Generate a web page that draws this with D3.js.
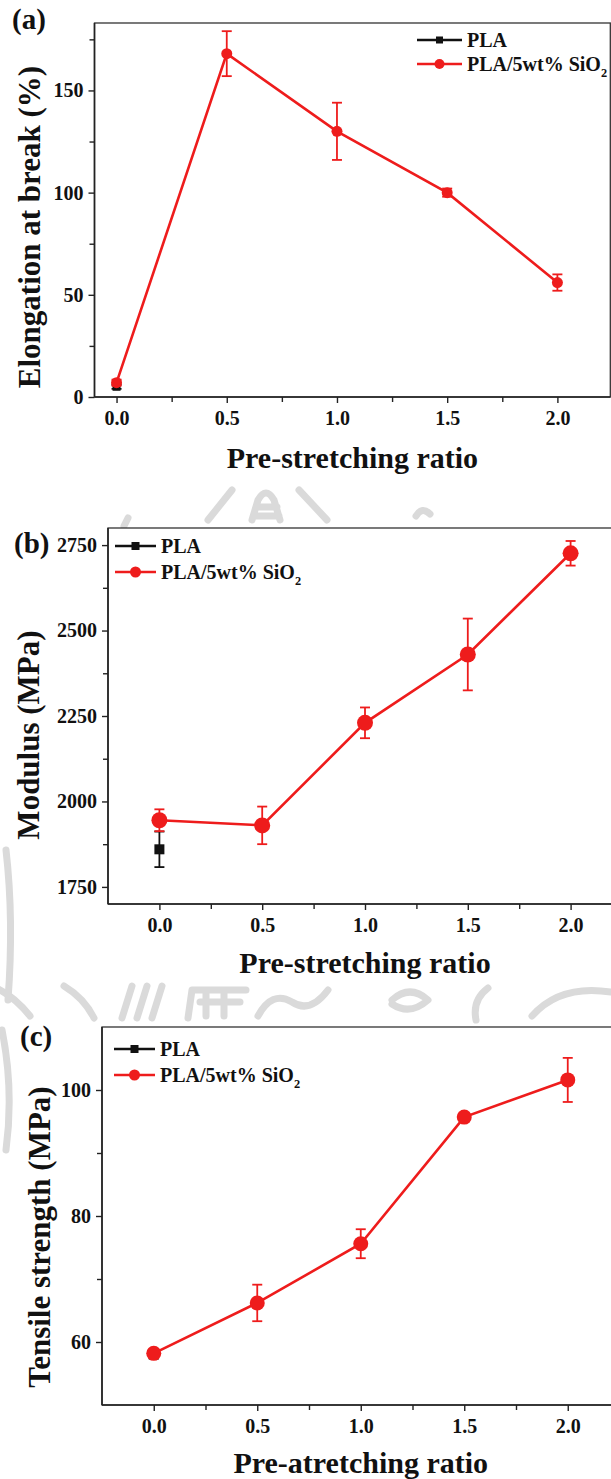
<!DOCTYPE html>
<html>
<head>
<meta charset="utf-8">
<script src="https://cdn.jsdelivr.net/npm/d3@7"></script>
<style>
  html, body { margin: 0; padding: 0; background: #fff; }
  svg { display: block; }
  text { font-family: "Liberation Serif", "Times New Roman", serif; font-weight: bold; fill: #111; }
</style>
</head>
<body>
<svg id="fig" width="611" height="1479"></svg>
<script>
// Pre-stretching ratios shared by all three panels
const ratios = [0, 0.5, 1.0, 1.5, 2.0];
const plaRatios = [0];
const xTickValues = [0, 0.5, 1.0, 1.5, 2.0];
const xMinorValues = [0.25, 0.75, 1.25, 1.75];

// (a) Elongation at break (%)
const elongPLA = [5];
const elongPLAErr = [1];
const elongSiO2 = [7, 168, 130, 100, 56];
const elongSiO2Err = [1.5, 11, 14, 2, 4];
const elongTicks = [0, 50, 100, 150];
const elongMinor = [25, 75, 125, 175];

// (b) Modulus (MPa)
const modPLA = [1860];
const modPLAErr = [52];
const modSiO2 = [1945, 1930, 2230, 2430, 2726];
const modSiO2Err = [32, 55, 45, 105, 36];
const modTicks = [1750, 2000, 2250, 2500, 2750];
const modMinor = [1875, 2125, 2375, 2625];

// (c) Tensile strength (MPa)
const tsPLA = [58];
const tsPLAErr = [0.5];
const tsSiO2 = [58.2, 66.2, 75.6, 95.7, 101.6];
const tsSiO2Err = [0.6, 2.9, 2.3, 0.5, 3.5];
const tsTicks = [60, 80, 100];
const tsMinor = [70, 90];

const seriesNames = ["PLA", "PLA/5wt% SiO"];
const RED = "#ee1c1c";
const BLACK = "#111";

const svg = d3.select("#fig");

// faint seal drawn behind the panels
const seal = svg.append("g").attr("fill", "none").attr("stroke", "#dadada")
  .attr("stroke-width", 7).attr("stroke-linecap", "round").attr("stroke-linejoin", "round");
[
  "M208,520 L232,490",
  "M252,520 L258,500 Q266,486 274,500 L280,520 M256,507 L277,507 M254,516 L279,516",
  "M299,490 L327,520",
  "M416,516 Q422,506 430,514",
  "M124,526 L128,518",
  "M-4,988 Q14,996 30,1016",
  "M64,986 Q84,998 94,1018",
  "M122,1018 L132,986 M137,1018 L147,986 M152,1018 L162,986",
  "M188,1018 L192,990 L246,990 M200,1002 L240,1002 M206,990 L206,1016 M224,990 L224,1016",
  "M258,1016 Q272,990 292,1002 Q310,1014 328,990",
  "M392,1000 Q410,984 428,1000 Q410,1016 392,1004",
  "M488,988 Q472,1000 476,1020",
  "M532,1016 Q560,984 611,992",
  "M6,850 Q14,920 8,1000",
  "M2,1030 Q14,1090 6,1150"
].forEach(d => seal.append("path").attr("d", d));

function drawMarker(sel, shape, cx, cy, size, color) {
  if (shape === "square") {
    sel.append("rect").attr("x", cx - size / 2).attr("y", cy - size / 2)
      .attr("width", size).attr("height", size).attr("fill", color);
  } else {
    sel.append("circle").attr("cx", cx).attr("cy", cy).attr("r", size / 2).attr("fill", color);
  }
}

function panel(cfg) {
  const g = svg.append("g");
  const x = d3.scaleLinear().domain(cfg.xDomain).range([cfg.left, cfg.right]);
  const y = d3.scaleLinear().domain(cfg.yDomain).range([cfg.bottom, cfg.top]);

  // plot area with frame
  g.append("rect").attr("x", cfg.left).attr("y", cfg.top)
    .attr("width", cfg.right - cfg.left).attr("height", cfg.bottom - cfg.top)
    .attr("fill", "#fff").attr("stroke", "#333").attr("stroke-width", 1.3);

  // bottom axis, major and minor ticks
  const xAxis = g.append("g").attr("transform", `translate(0,${cfg.bottom})`)
    .call(d3.axisBottom(x).tickValues(xTickValues).tickSize(6).tickPadding(8)
      .tickFormat(d3.format(".1f")));
  const xMinor = g.append("g").attr("transform", `translate(0,${cfg.bottom})`)
    .call(d3.axisBottom(x).tickValues(xMinorValues).tickSize(5).tickFormat(""));
  // left axis
  const yAxis = g.append("g").attr("transform", `translate(${cfg.left},0)`)
    .call(d3.axisLeft(y).tickValues(cfg.yTicks).tickSize(6).tickPadding(5)
      .tickFormat(d3.format("d")));
  const yMinor = g.append("g").attr("transform", `translate(${cfg.left},0)`)
    .call(d3.axisLeft(y).tickValues(cfg.yMinor).tickSize(5).tickFormat(""));

  [xAxis, xMinor, yAxis, yMinor].forEach(a => {
    a.select(".domain").remove();
    a.selectAll(".tick line").attr("stroke", "#222").attr("stroke-width", 1.4);
    a.selectAll("text").attr("font-size", cfg.tickFont).attr("fill", "#111")
      .style("font-family", '"Liberation Serif", serif').style("font-weight", "bold");
  });
  g.append("line").attr("x1", cfg.left).attr("x2", cfg.right)
    .attr("y1", cfg.bottom).attr("y2", cfg.bottom).attr("stroke", "#222").attr("stroke-width", 1.6);
  g.append("line").attr("x1", cfg.left).attr("x2", cfg.left)
    .attr("y1", cfg.top).attr("y2", cfg.bottom).attr("stroke", "#222").attr("stroke-width", 1.6);

  // data series: PLA first, composite on top
  const series = [
    { xs: plaRatios, ys: cfg.pla, err: cfg.plaErr, color: BLACK, shape: "square", size: cfg.sqSize },
    { xs: ratios, ys: cfg.sio2, err: cfg.sio2Err, color: RED, shape: "circle", size: cfg.ciSize }
  ];
  series.forEach(s => {
    const pts = s.xs.map((v, i) => [v, s.ys[i], s.err[i]]);
    if (pts.length > 1) {
      g.append("path").datum(pts)
        .attr("d", d3.line().x(d => x(d[0])).y(d => y(d[1])))
        .attr("fill", "none").attr("stroke", s.color).attr("stroke-width", cfg.lineW);
    }
    const eb = g.append("g").attr("stroke", s.color).attr("stroke-width", 1.8);
    pts.forEach(d => {
      const cx = x(d[0]);
      const y1 = y(d[1] + d[2]), y2 = y(d[1] - d[2]);
      eb.append("line").attr("x1", cx).attr("x2", cx).attr("y1", y1).attr("y2", y2);
      eb.append("line").attr("x1", cx - cfg.cap).attr("x2", cx + cfg.cap).attr("y1", y1).attr("y2", y1);
      eb.append("line").attr("x1", cx - cfg.cap).attr("x2", cx + cfg.cap).attr("y1", y2).attr("y2", y2);
    });
    const mk = g.append("g");
    pts.forEach(d => drawMarker(mk, s.shape, x(d[0]), y(d[1]), s.size, s.color));
  });

  // legend
  const lg = g.append("g");
  [[BLACK, "square", cfg.legSq], [RED, "circle", cfg.legCi]].forEach((it, i) => {
    const ly = cfg.legY + i * cfg.legGap;
    lg.append("line").attr("x1", cfg.legX).attr("x2", cfg.legX + cfg.legLen)
      .attr("y1", ly).attr("y2", ly).attr("stroke", it[0]).attr("stroke-width", 2.6);
    drawMarker(lg, it[1], cfg.legX + cfg.legLen / 2, ly, it[2], it[0]);
    const t = lg.append("text").attr("x", cfg.legX + cfg.legLen + 5).attr("y", ly + 6.5)
      .attr("font-size", cfg.legFont).text(seriesNames[i]);
    if (i === 1) {
      t.append("tspan").attr("dy", 6).attr("font-size", cfg.legFont * 0.62).text("2");
    }
  });

  // titles
  g.append("text").attr("x", (cfg.left + cfg.right) / 2).attr("y", cfg.xTitleY)
    .attr("text-anchor", "middle").attr("font-size", 30).text(cfg.xTitle);
  g.append("text").attr("transform", `translate(${cfg.yTitleX},${cfg.yTitleC}) rotate(-90)`)
    .attr("text-anchor", "middle").attr("font-size", 31).text(cfg.yTitle);
  g.append("text").attr("x", cfg.tagX).attr("y", cfg.tagY).attr("font-size", 29).text(cfg.tag);
}

panel({
  tag: "(a)", tagX: 12, tagY: 29,
  left: 94.5, right: 610.3, top: 23, bottom: 397,
  xDomain: [-0.1, 2.24], yDomain: [0, 183],
  yTicks: elongTicks, yMinor: elongMinor, tickFont: 20,
  pla: elongPLA, plaErr: elongPLAErr, sio2: elongSiO2, sio2Err: elongSiO2Err,
  sqSize: 8, ciSize: 11, lineW: 2.6, cap: 5,
  legX: 417, legY: 40, legGap: 24, legLen: 45, legSq: 7, legCi: 10, legFont: 20,
  xTitle: "Pre-stretching ratio", xTitleY: 468,
  yTitle: "Elongation at break (%)", yTitleX: 40, yTitleC: 227
});

panel({
  tag: "(b)", tagX: 14, tagY: 553,
  left: 108, right: 622, top: 528, bottom: 904,
  xDomain: [-0.25, 2.25], yDomain: [1700, 2800],
  yTicks: modTicks, yMinor: modMinor, tickFont: 20,
  pla: modPLA, plaErr: modPLAErr, sio2: modSiO2, sio2Err: modSiO2Err,
  sqSize: 10, ciSize: 16, lineW: 2.6, cap: 5,
  legX: 115, legY: 546, legGap: 26, legLen: 41, legSq: 8, legCi: 11, legFont: 20,
  xTitle: "Pre-stretching ratio", xTitleY: 973,
  yTitle: "Modulus (MPa)", yTitleX: 39, yTitleC: 735
});

panel({
  tag: "(c)", tagX: 20, tagY: 1046,
  left: 102, right: 619.5, top: 1027, bottom: 1405,
  xDomain: [-0.25, 2.25], yDomain: [50, 110],
  yTicks: tsTicks, yMinor: tsMinor, tickFont: 20,
  pla: tsPLA, plaErr: tsPLAErr, sio2: tsSiO2, sio2Err: tsSiO2Err,
  sqSize: 10, ciSize: 15, lineW: 2.6, cap: 5,
  legX: 114, legY: 1049, legGap: 26, legLen: 41, legSq: 8, legCi: 11, legFont: 20,
  xTitle: "Pre-atretching ratio", xTitleY: 1473,
  yTitle: "Tensile strength (MPa)", yTitleX: 50, yTitleC: 1237
});
</script>
</body>
</html>
